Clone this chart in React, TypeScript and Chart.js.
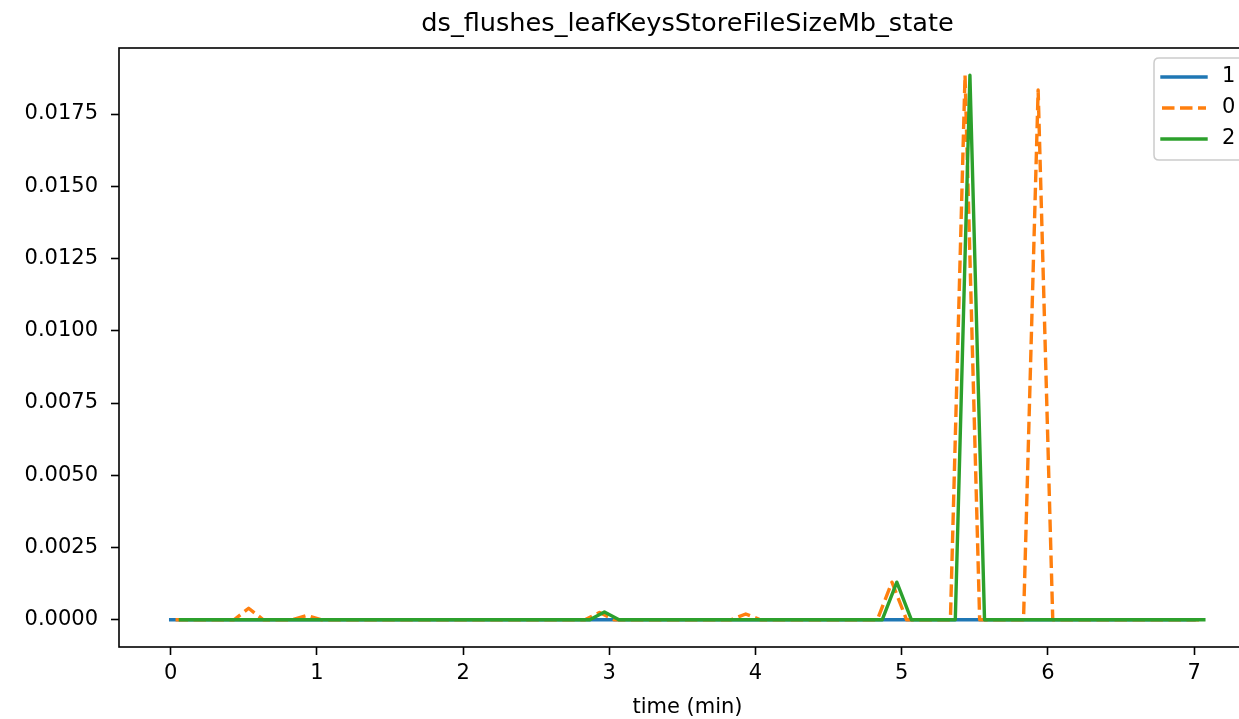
import React, { useEffect, useRef } from "react";
import { Chart, registerables } from "chart.js";

Chart.register(...registerables);

const TITLE = "ds_flushes_leafKeysStoreFileSizeMb_state";
const X_LABEL = "time (min)";
const SERIES_LABELS = ["1", "0", "2"];
const COLORS = ["#1f77b4", "#ff7f0e", "#2ca02c"];

const X_TICKS = [0, 1, 2, 3, 4, 5, 6, 7];
const Y_TICKS = [0, 0.0025, 0.005, 0.0075, 0.01, 0.0125, 0.015, 0.0175];

// sample times in seconds
const T1_SEC = [
  0, 6, 12, 18, 24, 30, 36, 42, 48, 54,
  60, 66, 72, 78, 84, 90, 96, 102, 108, 114,
  120, 126, 132, 138, 144, 150, 156, 162, 168, 174,
  180, 186, 192, 198, 204, 210, 216, 222, 228, 234,
  240, 246, 252, 258, 264, 270, 276, 282, 288, 294,
  300, 306, 312, 318, 324, 330, 336, 342, 348, 354,
  360, 366, 372, 378, 384, 390, 396, 402, 408, 414,
  420,
];
const T0_SEC = [
  2, 8, 14, 20, 26, 32, 38, 44, 50, 56,
  62, 68, 74, 80, 86, 92, 98, 104, 110, 116,
  122, 128, 134, 140, 146, 152, 158, 164, 170, 176,
  182, 188, 194, 200, 206, 212, 218, 224, 230, 236,
  242, 248, 254, 260, 266, 272, 278, 284, 290, 296,
  302, 308, 314, 320, 326, 332, 338, 344, 350, 356,
  362, 368, 374, 380, 386, 392, 398, 404, 410, 416,
  422,
];
const T2_SEC = [
  4, 10, 16, 22, 28, 34, 40, 46, 52, 58,
  64, 70, 76, 82, 88, 94, 100, 106, 112, 118,
  124, 130, 136, 142, 148, 154, 160, 166, 172, 178,
  184, 190, 196, 202, 208, 214, 220, 226, 232, 238,
  244, 250, 256, 262, 268, 274, 280, 286, 292, 298,
  304, 310, 316, 322, 328, 334, 340, 346, 352, 358,
  364, 370, 376, 382, 388, 394, 400, 406, 412, 418,
  424,
];

const V1 = [
  0, 0, 0, 0, 0, 0, 0, 0, 0, 0,
  0, 0, 0, 0, 0, 0, 0, 0, 0, 0,
  0, 0, 0, 0, 0, 0, 0, 0, 0, 0,
  0, 0, 0, 0, 0, 0, 0, 0, 0, 0,
  0, 0, 0, 0, 0, 0, 0, 0, 0, 0,
  0, 0, 0, 0, 0, 0, 0, 0, 0, 0,
  0, 0, 0, 0, 0, 0, 0, 0, 0, 0,
  0,
];
const V0 = [
  0, 0, 0, 0, 0, 0.0004, 0, 0, 0, 0.00015,
  0, 0, 0, 0, 0, 0, 0, 0, 0, 0,
  0, 0, 0, 0, 0, 0, 0, 0, 0, 0.00025,
  0, 0, 0, 0, 0, 0, 0, 0, 0, 0.0002,
  0, 0, 0, 0, 0, 0, 0, 0, 0, 0.0013,
  0, 0, 0, 0, 0.01884, 0, 0, 0, 0, 0.01833,
  0, 0, 0, 0, 0, 0, 0, 0, 0, 0,
  0,
];
const V2 = [
  0, 0, 0, 0, 0, 0, 0, 0, 0, 0,
  0, 0, 0, 0, 0, 0, 0, 0, 0, 0,
  0, 0, 0, 0, 0, 0, 0, 0, 0, 0.00027,
  0, 0, 0, 0, 0, 0, 0, 0, 0, 0,
  0, 0, 0, 0, 0, 0, 0, 0, 0, 0.0013,
  0, 0, 0, 0, 0.01884, 0, 0, 0, 0, 0,
  0, 0, 0, 0, 0, 0, 0, 0, 0, 0,
  0,
];

const FONT = "'DejaVu Sans', sans-serif";
const W = 1300;
const H = 719;
const LW = 3.4;
const DASH = [12.5, 5.5];

const toPoints = (t: number[], v: number[]) =>
  t.map((s, i) => ({ x: s / 60, y: v[i] }));

export default function App() {
  const ref = useRef<HTMLCanvasElement | null>(null);

  useEffect(() => {
    if (!ref.current) return;
    const overlay = {
      id: "mplOverlay",
      afterDraw(chart: any) {
        const ctx = chart.ctx;
        const a = chart.chartArea;
        ctx.save();
        // frame
        ctx.strokeStyle = "#000";
        ctx.lineWidth = 1.6;
        ctx.strokeRect(a.left, a.top, a.right - a.left, a.bottom - a.top);
        // title
        ctx.fillStyle = "#000";
        ctx.font = `25.6px ${FONT}`;
        ctx.textAlign = "center";
        ctx.textBaseline = "alphabetic";
        ctx.fillText(TITLE, (a.left + a.right) / 2, 31);
        // x label
        ctx.font = `21px ${FONT}`;
        ctx.fillText(X_LABEL, (a.left + a.right) / 2, 713);
        // legend
        const lx = 1154, ly = 58, lw = 91, lh = 102, r = 5;
        ctx.beginPath();
        ctx.moveTo(lx + r, ly);
        ctx.lineTo(lx + lw - r, ly);
        ctx.quadraticCurveTo(lx + lw, ly, lx + lw, ly + r);
        ctx.lineTo(lx + lw, ly + lh - r);
        ctx.quadraticCurveTo(lx + lw, ly + lh, lx + lw - r, ly + lh);
        ctx.lineTo(lx + r, ly + lh);
        ctx.quadraticCurveTo(lx, ly + lh, lx, ly + lh - r);
        ctx.lineTo(lx, ly + r);
        ctx.quadraticCurveTo(lx, ly, lx + r, ly);
        ctx.closePath();
        ctx.fillStyle = "rgba(255,255,255,0.8)";
        ctx.fill();
        ctx.strokeStyle = "#cccccc";
        ctx.lineWidth = 1.5;
        ctx.stroke();
        const rows = [77, 108, 139];
        SERIES_LABELS.forEach((lab, i) => {
          const y = rows[i];
          ctx.beginPath();
          ctx.strokeStyle = COLORS[i];
          ctx.lineWidth = LW;
          ctx.lineCap = i === 1 ? "butt" : "square";
          ctx.setLineDash(i === 1 ? DASH : []);
          ctx.moveTo(1162, y);
          ctx.lineTo(1206, y);
          ctx.stroke();
          ctx.setLineDash([]);
          ctx.fillStyle = "#000";
          ctx.font = `21px ${FONT}`;
          ctx.textAlign = "left";
          ctx.textBaseline = "middle";
          ctx.fillText(lab, 1222, y);
        });
        ctx.restore();
      },
    };

    const mk = (i: number, t: number[], v: number[], order: number) => ({
      label: SERIES_LABELS[i],
      data: toPoints(t, v),
      borderColor: COLORS[i],
      backgroundColor: COLORS[i],
      borderWidth: LW,
      pointRadius: 0,
      tension: 0,
      fill: false,
      borderJoinStyle: "round",
      borderCapStyle: i === 1 ? "butt" : "square",
      borderDash: i === 1 ? DASH : [],
      order,
    });

    const chart = new Chart(ref.current, {
      type: "line",
      data: {
        datasets: [
          mk(0, T1_SEC, V1, 3),
          mk(1, T0_SEC, V0, 2),
          mk(2, T2_SEC, V2, 1),
        ] as any,
      },
      options: {
        animation: false,
        responsive: false,
        devicePixelRatio: 1,
        layout: { padding: { left: 0, top: 48, right: W - 1256, bottom: 0 } },
        plugins: {
          legend: { display: false },
          title: { display: false },
          tooltip: { enabled: false },
        },
        scales: {
          x: {
            type: "linear",
            min: -0.3535,
            max: 7.4235,
            afterFit: (s: any) => {
              s.height = H - 647;
            },
            afterBuildTicks: (s: any) => {
              s.ticks = X_TICKS.map((v) => ({ value: v }));
            },
            ticks: {
              color: "#000",
              font: { family: FONT, size: 21 },
              padding: 6,
              maxRotation: 0,
              autoSkip: false,
              callback: (v: any) => String(v),
            },
            grid: {
              drawOnChartArea: false,
              drawTicks: true,
              tickLength: 8,
              tickColor: "#000",
              tickWidth: 1.6,
            },
            border: { display: false },
          },
          y: {
            type: "linear",
            min: -0.000942,
            max: 0.019784,
            afterFit: (s: any) => {
              s.width = 119;
            },
            afterBuildTicks: (s: any) => {
              s.ticks = Y_TICKS.map((v) => ({ value: v }));
            },
            ticks: {
              color: "#000",
              font: { family: FONT, size: 21 },
              padding: 13,
              autoSkip: false,
              callback: (v: any) => Number(v).toFixed(4),
            },
            grid: {
              drawOnChartArea: false,
              drawTicks: true,
              tickLength: 8,
              tickColor: "#000",
              tickWidth: 1.6,
            },
            border: { display: false },
          },
        },
      },
      plugins: [overlay],
    });
    return () => chart.destroy();
  }, []);

  return (
    <div
      style={{
        position: "fixed",
        left: 0,
        top: 0,
        width: 1239,
        height: 719,
        overflow: "hidden",
        background: "#fff",
      }}
    >
      <canvas ref={ref} width={W} height={H} style={{ width: W, height: H, display: "block" }} />
    </div>
  );
}
